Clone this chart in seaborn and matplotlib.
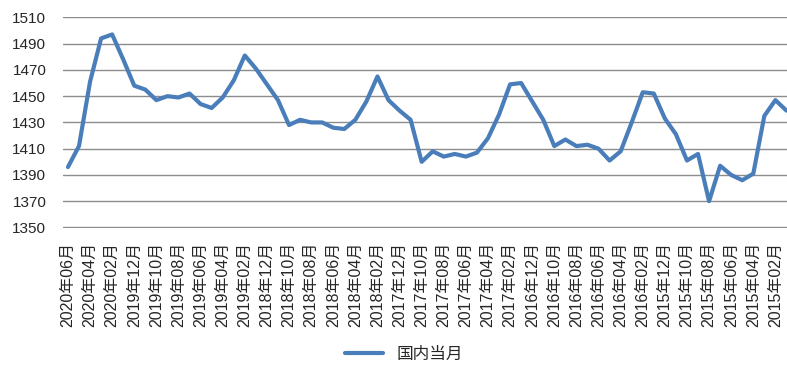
import numpy as np
import pandas as pd
import matplotlib
matplotlib.use('Agg')
import matplotlib.pyplot as plt
import seaborn as sns

# --- 数据 ---
# 月份（倒序，从2020年06月到2015年01月）
months = pd.period_range('2015-01', '2020-06', freq='M')[::-1]
month_labels = [f'{p.year}年{p.month:02d}月' for p in months]

# 国内当月
values = [1396, 1412, 1461, 1494, 1497, 1478, 1458, 1455, 1447, 1450,
          1449, 1452, 1444, 1441, 1449, 1462, 1481, 1471, 1459, 1447,
          1428, 1432, 1430, 1430, 1426, 1425, 1432, 1446, 1465, 1447,
          1439, 1432, 1400, 1408, 1404, 1406, 1404, 1407, 1418, 1436,
          1459, 1460, 1446, 1432, 1412, 1417, 1412, 1413, 1410, 1401,
          1408, 1430, 1453, 1452, 1433, 1421, 1401, 1406, 1370, 1397,
          1390, 1386, 1391, 1435, 1447, 1439]

df = pd.DataFrame({'idx': np.arange(len(values)), 'value': values,
                   'label': month_labels})

# --- 样式 ---
sns.set_style('white')
plt.rcParams['font.family'] = ['Liberation Sans', 'Noto Sans CJK SC', 'DejaVu Sans']

fig = plt.figure(figsize=(7.87, 3.76), dpi=100)
ax = fig.add_axes([0.080, 0.3936, 0.92, 0.5612])

sns.lineplot(data=df, x='idx', y='value', ax=ax, color='#4A7EBB',
             linewidth=3, label='国内当月', legend=False)

# 坐标轴
ax.set_ylim(1349.6, 1510.3)
ax.set_yticks(range(1350, 1511, 20))
ax.set_xlim(-0.45, 65.05)
ax.set_xticks(df['idx'][::2])
ax.set_xticklabels(df['label'][::2], rotation=90, fontsize=11.5)
ax.tick_params(axis='y', labelsize=11, length=0, pad=12)
ax.tick_params(axis='x', length=0, pad=10)
ax.set_xlabel('')
ax.set_ylabel('')

ax.yaxis.grid(True, color='#8c8c8c', linewidth=1)
ax.xaxis.grid(False)
ax.set_axisbelow(True)
for s in ax.spines.values():
    s.set_visible(False)

# 图例
handles, labels = ax.get_legend_handles_labels()
fig.legend(handles, labels, loc='center', bbox_to_anchor=(0.513, 0.058),
           frameon=False, fontsize=12, handlelength=2.3)

plt.savefig('out.png', dpi=100)
